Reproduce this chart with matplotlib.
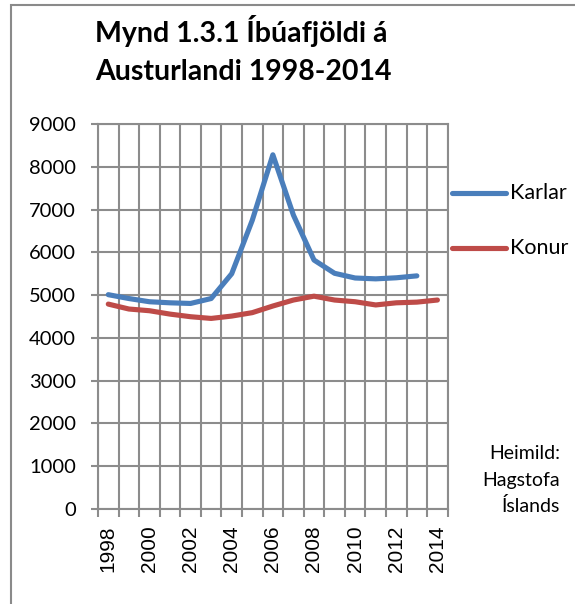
import matplotlib
matplotlib.use("Agg")
import matplotlib.pyplot as plt
from matplotlib.patches import Rectangle
from matplotlib.lines import Line2D
import numpy as np

years = list(range(1998, 2015))
karlar = [5010, 4920, 4845, 4820, 4805, 4920, 5500, 6750, 8280, 6870, 5820, 5510, 5400, 5380, 5405, 5450, None]
konur = [4790, 4675, 4635, 4556, 4495, 4455, 4510, 4590, 4745, 4885, 4975, 4885, 4845, 4770, 4820, 4836, 4885]
series_names = ["Karlar", "Konur"]
title_lines = ["Mynd 1.3.1 Íbúafjöldi á", "Austurlandi 1998-2014"]
source_lines = ["Heimild:", "Hagstofa", "Íslands"]
yticks = list(range(0, 10000, 1000))

W, H = 575, 604
fig = plt.figure(figsize=(W / 100, H / 100), dpi=100)
fig.patch.set_facecolor("white")

# outer border
fig.patches.append(Rectangle((11 / W, -0.1), 1.2, 1 - 5 / H + 0.1, transform=fig.transFigure,
                             fill=False, edgecolor="#8a8a8a", linewidth=1.5, zorder=0))

ax = fig.add_axes([98 / W, 1 - 509 / H, (447.7 - 98) / W, (509 - 124) / H])
grid_c = "#8c8c8c"
x = np.arange(len(years))
ax.set_xlim(-0.5, len(years) - 0.5)
ax.set_ylim(0, 9000)

# gridlines
for b in np.arange(-0.5, len(years), 1.0):
    ax.axvline(b, color=grid_c, lw=1.5, zorder=1)
for yv in yticks:
    ax.axhline(yv, color=grid_c, lw=1.5, zorder=1)

k = np.array([np.nan if v is None else v for v in karlar], dtype=float)
f = np.array(konur, dtype=float)
colors = ["#4A7EBB", "#BE4B48"]
ax.plot(x, k, color=colors[0], lw=3.7, solid_capstyle="round", solid_joinstyle="round", zorder=3)
ax.plot(x, f, color=colors[1], lw=3.7, solid_capstyle="round", solid_joinstyle="round", zorder=3)

for s in ax.spines.values():
    s.set_color(grid_c)
    s.set_linewidth(1.5)

ax.set_yticks(yticks)
ax.set_yticklabels([str(v) for v in yticks], fontfamily="Lato", fontsize=14.5)
ax.tick_params(axis="y", length=5, width=1.5, color=grid_c, pad=11)

ax.set_xticks(np.arange(-0.5, len(years), 1.0))
ax.set_xticklabels([])
ax.tick_params(axis="x", which="major", length=6, width=1.5, color=grid_c)
lab_idx = [i for i, yv in enumerate(years) if yv % 2 == 0]
ax.set_xticks(lab_idx, minor=True)
ax.set_xticklabels([str(years[i]) for i in lab_idx], minor=True, rotation=90,
                   fontfamily="Liberation Sans", fontsize=15)
ax.tick_params(axis="x", which="minor", length=0, pad=12)

# title
fig.text(95 / W, 1 - 42 / H, title_lines[0], fontfamily="Lato", fontweight="bold", fontsize=20.5, va="baseline", ha="left")
fig.text(95 / W, 1 - 80 / H, title_lines[1], fontfamily="Lato", fontweight="bold", fontsize=20.5, va="baseline", ha="left")

# legend
for i, (name, yy) in enumerate(zip(series_names, [193.3, 248.3])):
    fig.lines.append(Line2D([452 / W, 506 / W], [1 - yy / H, 1 - yy / H], transform=fig.transFigure,
                            color=colors[i], lw=3.7, solid_capstyle="round"))
    fig.text(510 / W, 1 - yy / H, name, fontfamily="Lato", fontsize=15.5, va="center", ha="left")

# source
for j, (t, yy) in enumerate(zip(source_lines, [459, 486, 512])):
    fig.text(560 / W, 1 - yy / H, t, fontfamily="Lato", fontsize=14, va="baseline", ha="right")

fig.savefig("out.png", dpi=100)
